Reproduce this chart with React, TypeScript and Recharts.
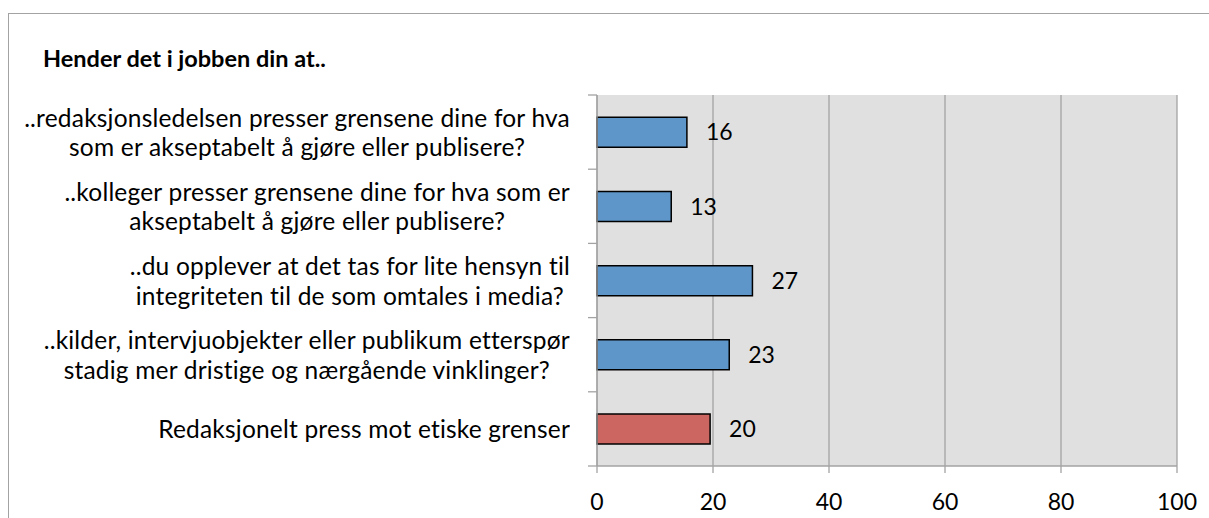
import { Bar, BarChart, CartesianGrid, Cell, LabelList, XAxis, YAxis } from "recharts";

const title = "Hender det i jobben din at..";

const categories = [
  "..redaksjonsledelsen presser grensene dine for hva\nsom er akseptabelt å gjøre eller publisere?",
  "..kolleger presser grensene dine for hva som er\nakseptabelt å gjøre eller publisere?",
  "..du opplever at det tas for lite hensyn til\nintegriteten til de som omtales i media?",
  "..kilder, intervjuobjekter eller publikum etterspør\nstadig mer dristige og nærgående vinklinger?",
  "Redaksjonelt press mot etiske grenser",
];
const values = [15.5, 12.8, 26.8, 22.8, 19.5];
const xTicks = [0, 20, 40, 60, 80, 100];

const data = categories.map((name, i) => ({ name, value: values[i] }));

const FONT = "Lato, 'Open Sans', sans-serif";
const LABEL_SIZE = 24.5;
const NUM_SIZE = 23;
const AXIS = "#a3a3a3";
const BLUE = "#5f96ca";
const RED = "#cc6660";
const LABEL_GAP = 27;

function CategoryTick({ x, y, payload, index }: any) {
  const lines = String(payload.value).split("\n");
  const half = payload.offset ?? 0;
  const axisX = x + LABEL_GAP;
  return (
    <g>
      <line x1={axisX - 9} x2={axisX} y1={y - half} y2={y - half} stroke={AXIS} strokeWidth={1.3} />
      {index === categories.length - 1 && (
        <line x1={axisX - 9} x2={axisX} y1={y + half} y2={y + half} stroke={AXIS} strokeWidth={1.3} />
      )}
      <foreignObject x={0} y={y - 40} width={x} height={80}>
        <div
          style={{
            width: x,
            height: 80,
            display: "flex",
            justifyContent: "flex-end",
            alignItems: "center",
          }}
        >
          <div
            style={{
              textAlign: "center",
              fontFamily: FONT,
              fontSize: LABEL_SIZE,
              lineHeight: "29.4px",
              letterSpacing: 0.2,
              color: "#000",
              whiteSpace: "nowrap",
            }}
          >
            {lines.map((l, i) => (
              <div key={i}>{l}</div>
            ))}
          </div>
        </div>
      </foreignObject>
    </g>
  );
}

function ValueTick({ x, y, payload }: any) {
  return (
    <text x={x} y={y} dy={35} textAnchor="middle" fontFamily={FONT} fontSize={NUM_SIZE} fill="#000">
      {payload.value}
    </text>
  );
}

export default function App() {
  return (
    <div
      style={{
        position: "absolute",
        left: 8,
        top: 13,
        width: 1201,
        height: 505,
        boxSizing: "border-box",
        borderTop: `1px solid ${AXIS}`,
        borderLeft: `1px solid ${AXIS}`,
        background: "#fff",
        overflow: "hidden",
      }}
    >
      <BarChart
        width={1200}
        height={504}
        data={data}
        layout="vertical"
        margin={{ top: 81, right: 32, bottom: 0, left: 0 }}
        barCategoryGap="30%"
      >
        <CartesianGrid horizontal={false} fill="#e0e0e0" fillOpacity={1} stroke={AXIS} strokeWidth={1.3} />
        <XAxis
          type="number"
          domain={[0, 100]}
          ticks={xTicks}
          interval={0}
          height={52}
          tickSize={7}
          axisLine={{ stroke: AXIS, strokeWidth: 1.3 }}
          tickLine={{ stroke: AXIS, strokeWidth: 1.3 }}
          tick={<ValueTick />}
        />
        <YAxis
          type="category"
          dataKey="name"
          width={588}
          interval={0}
          tickSize={0}
          tickMargin={LABEL_GAP}
          tickLine={false}
          axisLine={{ stroke: AXIS, strokeWidth: 1.3 }}
          tick={<CategoryTick />}
        />
        <Bar dataKey="value" stroke="#000" strokeWidth={1.5} isAnimationActive={false}>
          {data.map((_, i) => (
            <Cell key={i} fill={i === data.length - 1 ? RED : BLUE} />
          ))}
          <LabelList
            dataKey="value"
            position="right"
            offset={19}
            formatter={(v: any) => Math.round(Number(v))}
            style={{ fontFamily: FONT, fontSize: NUM_SIZE, fill: "#000" }}
          />
        </Bar>
      </BarChart>
      <svg
        width={1200}
        height={504}
        style={{ position: "absolute", left: 0, top: 0, pointerEvents: "none" }}
      >
        <text x={34} y={53} fontFamily={FONT} fontSize={23.5} fontWeight="bold" fill="#000">
          {title}
        </text>
      </svg>
    </div>
  );
}
